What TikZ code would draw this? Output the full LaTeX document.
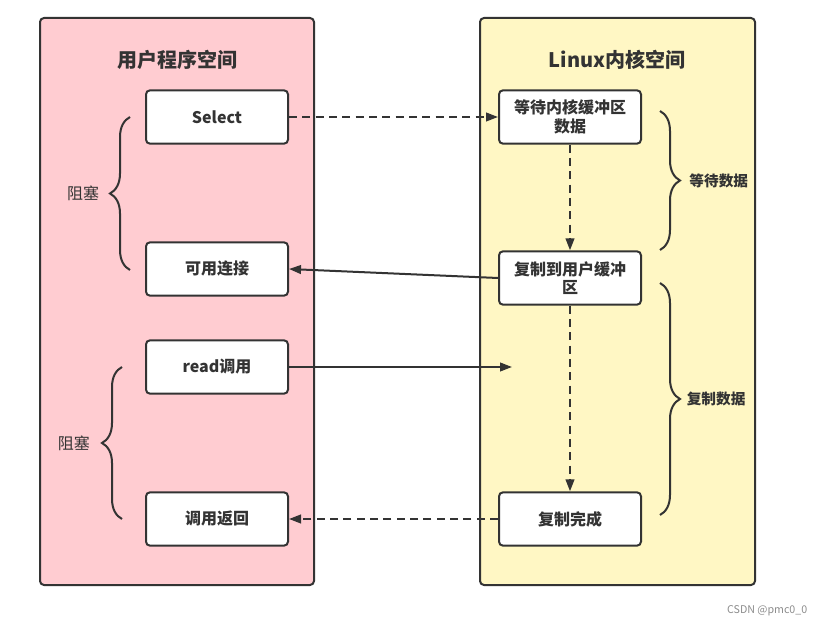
\documentclass[tikz,border=0pt]{standalone}
\usepackage{fontspec}
\setmainfont{Noto Sans CJK SC}
\usetikzlibrary{positioning, arrows.meta, decorations.pathreplacing}
\definecolor{userpink}{HTML}{FFCCD1}
\definecolor{kernyellow}{HTML}{FFF7C4}
\definecolor{inkgray}{HTML}{333333}

\begin{document}
\begin{tikzpicture}[
      x=0.75pt, y=-0.75pt,
      every node/.style={font=\fontsize{12}{14}\selectfont\bfseries, text=inkgray},
      space/.style={draw=inkgray, line width=1.5pt, rounded corners=3pt},
      stepbox/.style={draw=inkgray, line width=1.5pt, rounded corners=3pt, fill=white,
                      minimum width=106.5pt, minimum height=40pt, align=center,
                      inner sep=1pt},
      title/.style={font=\fontsize{15}{18}\selectfont\bfseries},
      bracelbl/.style={font=\fontsize{12}{14}\selectfont},
      sidelbl/.style={font=\fontsize{11}{13}\selectfont\bfseries},
      link/.style={draw=inkgray, line width=1.5pt},
      dashlink/.style={link, dash pattern=on 6pt off 4pt},
      curly/.style={draw=inkgray, line width=1.5pt,
                    decorate, decoration={brace, amplitude=15pt, aspect=0.5}},
      >={Triangle[length=9pt, width=6.5pt]},
    ]
    \useasboundingbox (0,0) rectangle (822,627);

    % two spaces
    \draw[space, fill=userpink]   (40,18)  rectangle (314,585);
    \draw[space, fill=kernyellow] (480,18) rectangle (755,585);
    \node[title] (utitle) at (177,60) {用户程序空间};
    \node[title] (ktitle) at (617,60) {Linux内核空间};

    % user side
    \node[stepbox] (sel)  at (217,117) {Select};
    \node[stepbox] (conn) at (217,269) {可用连接};
    \node[stepbox] (rd)   at (217,367) {read调用};
    \node[stepbox] (ret)  at (217,519) {调用返回};

    % kernel side
    \node[stepbox] (wait) at (570,117) {等待内核缓冲区\\数据};
    \node[stepbox] (copy) at (570,278) {复制到用户缓冲\\区};
    \node[stepbox] (done) at (570,519) {复制完成};
    \coordinate (rdend) at (512,367);

    % connectors
    \draw[dashlink, ->] (sel) -- (wait);
    \draw[dashlink, ->] (wait) -- (copy);
    \draw[link, ->] (copy.west) -- (conn.east);
    \draw[link, ->] (rd) -- (rdend);
    \draw[dashlink, ->] (copy) -- (done);
    \draw[dashlink, ->] (done) -- (ret);

    % braces
    \draw[curly] (130,270) -- (130,117)
      node[bracelbl, midway, left=19pt] (blk1) {阻塞};
    \draw[curly] (122,519) -- (122,367)
      node[bracelbl, midway, left=20pt] (blk2) {阻塞};
    \draw[curly] (660,111) -- (660,250)
      node[sidelbl, midway, right=18pt] (wdat) {等待数据};
    \draw[curly] (660,283) -- (660,515)
      node[sidelbl, midway, right=16pt] (cdat) {复制数据};

    \node[font=\fontsize{8}{10}\selectfont, text=gray!90, anchor=east] (mark) at (812,611) {CSDN @pmc0\_0};
  \end{tikzpicture}
\end{document}
